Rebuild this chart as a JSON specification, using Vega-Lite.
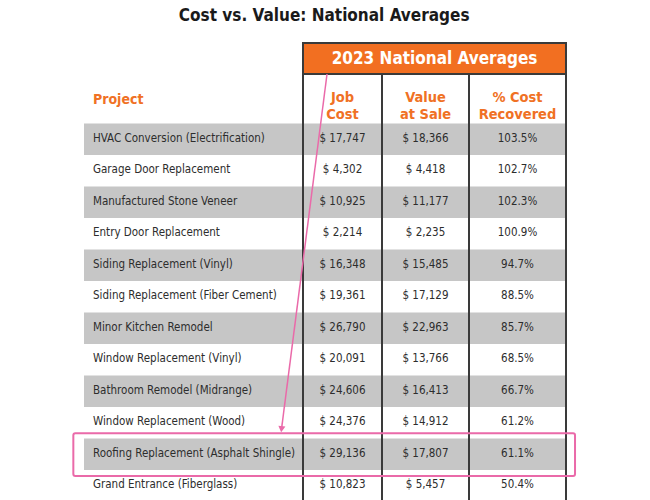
{
  "$schema": "https://vega.github.io/schema/vega-lite/v6.json",
  "background": "white",
  "padding": {"left": 72, "top": 7, "right": 0, "bottom": 0},
  "title": {"text": "Cost vs. Value: National Averages", "font": "DejaVu Sans Condensed", "fontSize": 17, "fontWeight": "bold", "color": "#1a1a1a", "anchor": "middle", "offset": 17},
  "datasets": {
    "projects": [
      {"row": 1, "project": "HVAC Conversion (Electrification)", "job_cost": 17747, "value_at_sale": 18366, "cost_recovered": 1.035},
      {"row": 2, "project": "Garage Door Replacement", "job_cost": 4302, "value_at_sale": 4418, "cost_recovered": 1.027},
      {"row": 3, "project": "Manufactured Stone Veneer", "job_cost": 10925, "value_at_sale": 11177, "cost_recovered": 1.023},
      {"row": 4, "project": "Entry Door Replacement", "job_cost": 2214, "value_at_sale": 2235, "cost_recovered": 1.009},
      {"row": 5, "project": "Siding Replacement (Vinyl)", "job_cost": 16348, "value_at_sale": 15485, "cost_recovered": 0.947},
      {"row": 6, "project": "Siding Replacement (Fiber Cement)", "job_cost": 19361, "value_at_sale": 17129, "cost_recovered": 0.885},
      {"row": 7, "project": "Minor Kitchen Remodel", "job_cost": 26790, "value_at_sale": 22963, "cost_recovered": 0.857},
      {"row": 8, "project": "Window Replacement (Vinyl)", "job_cost": 20091, "value_at_sale": 13766, "cost_recovered": 0.685},
      {"row": 9, "project": "Bathroom Remodel (Midrange)", "job_cost": 24606, "value_at_sale": 16413, "cost_recovered": 0.667},
      {"row": 10, "project": "Window Replacement (Wood)", "job_cost": 24376, "value_at_sale": 14912, "cost_recovered": 0.612},
      {"row": 11, "project": "Roofing Replacement (Asphalt Shingle)", "job_cost": 29136, "value_at_sale": 17807, "cost_recovered": 0.611},
      {"row": 12, "project": "Grand Entrance (Fiberglass)", "job_cost": 10823, "value_at_sale": 5457, "cost_recovered": 0.504}
    ]
  },
  "data": {"name": "projects"},
  "bounds": "flush",
  "spacing": 0,
  "hconcat": [
    {
      "width": 219, "height": 458,
      "layer": [
        {
          "mark": {"type": "rect", "binSpacing": 0},
          "encoding": {
            "y": {"field": "row", "type": "quantitative", "bin": {"step": 1, "extent": [1, 13]}, "scale": {"domain": [-1.5397, 13], "reverse": true, "nice": false, "zero": false}, "axis": null},
            "fill": {"condition": {"test": "datum.row % 2 == 1", "value": "#c6c6c6"}, "value": "transparent"}
          }
        },
        {
          "mark": {"type": "text", "align": "left", "dx": 9, "fontSize": 11.5, "color": "#2d2d2d"},
          "encoding": {
            "y": {"field": "row", "type": "quantitative", "bin": {"step": 1, "extent": [1, 13]}, "bandPosition": 0.5, "axis": null},
            "x": {"datum": 0, "type": "quantitative", "scale": {"domain": [0, 1], "nice": false, "zero": false}, "axis": null},
            "text": {"field": "project", "type": "nominal"}
          }
        },
        {
          "data": {"values": [{"label": "Project"}]},
          "mark": {"type": "text", "align": "left", "dx": 9, "fontSize": 14, "fontWeight": "bold", "color": "#f07124"},
          "encoding": {
            "y": {"datum": 0.27, "type": "quantitative", "axis": null},
            "x": {"datum": 0, "type": "quantitative", "axis": null},
            "text": {"field": "label"}
          }
        }
      ]
    },
    {
      "width": 79, "height": 458,
      "layer": [
        {
          "data": {"values": [{}]},
          "mark": {"type": "rect", "fill": "#f26f21", "stroke": "#3a3a3a", "strokeWidth": 2},
          "encoding": {
            "x": {"datum": 0, "type": "quantitative", "scale": {"domain": [0, 1], "nice": false, "zero": false}, "axis": null},
            "x2": {"datum": 3.329},
            "y": {"datum": -1.5397, "type": "quantitative", "scale": {"domain": [-1.5397, 13], "reverse": true, "nice": false, "zero": false}, "axis": null},
            "y2": {"datum": -0.5556}
          }
        },
        {
          "data": {"values": [{"t": "2023 National Averages"}]},
          "mark": {"type": "text", "fontSize": 17, "fontWeight": "bold", "color": "white"},
          "encoding": {
            "x": {"datum": 1.665, "type": "quantitative", "axis": null},
            "y": {"datum": -1.0476, "type": "quantitative", "axis": null},
            "text": {"field": "t"}
          }
        },
        {
          "data": {"values": [{"label": "Job\nCost"}]},
          "mark": {"type": "text", "lineBreak": "\n", "fontSize": 14.5, "fontWeight": "bold", "color": "#f07124", "lineHeight": 17},
          "encoding": {
            "y": {"datum": 0.2222, "type": "quantitative", "axis": null},
            "text": {"field": "label"}
          }
        },
        {
          "mark": {"type": "rect", "binSpacing": 0},
          "encoding": {
            "y": {"field": "row", "type": "quantitative", "bin": {"step": 1, "extent": [1, 13]}, "axis": null},
            "fill": {"condition": {"test": "datum.row % 2 == 1", "value": "#c6c6c6"}, "value": "transparent"}
          }
        },
        {
          "mark": {"type": "text", "fontSize": 11.5, "color": "#2d2d2d"},
          "encoding": {
            "y": {"field": "row", "type": "quantitative", "bin": {"step": 1, "extent": [1, 13]}, "bandPosition": 0.5, "axis": null},
            "text": {"field": "job_cost", "type": "quantitative", "format": "$,"}
          }
        },
        {
          "data": {"values": [{}]},
          "mark": {"type": "rule", "color": "#3a3a3a", "strokeWidth": 2},
          "encoding": {
            "x": {"datum": 0, "type": "quantitative", "axis": null},
            "y": {"datum": -0.5556, "type": "quantitative", "axis": null},
            "y2": {"datum": 13}
          }
        },
        {
          "data": {"values": [{}]},
          "mark": {"type": "rule", "color": "#ea6aa9", "strokeWidth": 1.5},
          "encoding": {
            "x": {"datum": 0.304, "type": "quantitative", "axis": null},
            "x2": {"datum": -0.272},
            "y": {"datum": -0.5556, "type": "quantitative", "axis": null},
            "y2": {"datum": 10.72}
          }
        },
        {
          "data": {"values": [{}]},
          "mark": {"type": "point", "shape": "triangle-down", "filled": true, "color": "#ea6aa9", "size": 50, "opacity": 1, "angle": 7},
          "encoding": {
            "x": {"datum": -0.272, "type": "quantitative", "axis": null},
            "y": {"datum": 10.72, "type": "quantitative", "axis": null}
          }
        }
      ]
    },
    {
      "width": 87, "height": 458,
      "layer": [
        {
          "data": {"values": [{"label": "Value\nat Sale"}]},
          "mark": {"type": "text", "lineBreak": "\n", "fontSize": 14.5, "fontWeight": "bold", "color": "#f07124", "lineHeight": 17},
          "encoding": {
            "y": {"datum": 0.2222, "type": "quantitative", "scale": {"domain": [-1.5397, 13], "reverse": true, "nice": false, "zero": false}, "axis": null},
            "text": {"field": "label"}
          }
        },
        {
          "mark": {"type": "rect", "binSpacing": 0},
          "encoding": {
            "y": {"field": "row", "type": "quantitative", "bin": {"step": 1, "extent": [1, 13]}, "axis": null},
            "fill": {"condition": {"test": "datum.row % 2 == 1", "value": "#c6c6c6"}, "value": "transparent"}
          }
        },
        {
          "mark": {"type": "text", "fontSize": 11.5, "color": "#2d2d2d"},
          "encoding": {
            "y": {"field": "row", "type": "quantitative", "bin": {"step": 1, "extent": [1, 13]}, "bandPosition": 0.5, "axis": null},
            "text": {"field": "value_at_sale", "type": "quantitative", "format": "$,"}
          }
        },
        {
          "data": {"values": [{}]},
          "mark": {"type": "rule", "color": "#3a3a3a", "strokeWidth": 2},
          "encoding": {
            "x": {"datum": 0, "type": "quantitative", "scale": {"domain": [0, 1], "nice": false, "zero": false}, "axis": null},
            "y": {"datum": -0.5556, "type": "quantitative", "axis": null},
            "y2": {"datum": 13}
          }
        }
      ]
    },
    {
      "width": 97, "height": 458,
      "layer": [
        {
          "data": {"values": [{"label": "% Cost\nRecovered"}]},
          "mark": {"type": "text", "lineBreak": "\n", "fontSize": 14.5, "fontWeight": "bold", "color": "#f07124", "lineHeight": 17},
          "encoding": {
            "y": {"datum": 0.2222, "type": "quantitative", "scale": {"domain": [-1.5397, 13], "reverse": true, "nice": false, "zero": false}, "axis": null},
            "text": {"field": "label"}
          }
        },
        {
          "mark": {"type": "rect", "binSpacing": 0},
          "encoding": {
            "y": {"field": "row", "type": "quantitative", "bin": {"step": 1, "extent": [1, 13]}, "axis": null},
            "fill": {"condition": {"test": "datum.row % 2 == 1", "value": "#c6c6c6"}, "value": "transparent"}
          }
        },
        {
          "mark": {"type": "text", "fontSize": 11.5, "color": "#2d2d2d"},
          "encoding": {
            "y": {"field": "row", "type": "quantitative", "bin": {"step": 1, "extent": [1, 13]}, "bandPosition": 0.5, "axis": null},
            "text": {"field": "cost_recovered", "type": "quantitative", "format": ".1%"}
          }
        },
        {
          "data": {"values": [{"side": 0}, {"side": 1}]},
          "mark": {"type": "rule", "color": "#3a3a3a", "strokeWidth": 2},
          "encoding": {
            "x": {"field": "side", "type": "quantitative", "scale": {"domain": [0, 1], "nice": false, "zero": false}, "axis": null},
            "y": {"datum": -0.5556, "type": "quantitative", "axis": null},
            "y2": {"datum": 13}
          }
        },
        {
          "data": {"values": [{}]},
          "mark": {"type": "rect", "fillOpacity": 0, "stroke": "#ea6aa9", "strokeWidth": 2, "cornerRadius": 2},
          "encoding": {
            "x": {"datum": -4.079, "type": "quantitative", "axis": null},
            "x2": {"datum": 1.093},
            "y": {"datum": 10.85, "type": "quantitative", "axis": null},
            "y2": {"datum": 12.21}
          }
        }
      ]
    }
  ],
  "config": {
    "view": {"stroke": null},
    "concat": {"spacing": 0},
    "locale": {"number": {"decimal": ".", "thousands": ",", "grouping": [3], "currency": ["$ ", ""]}},
    "text": {"font": "DejaVu Sans Condensed"}
  }
}
